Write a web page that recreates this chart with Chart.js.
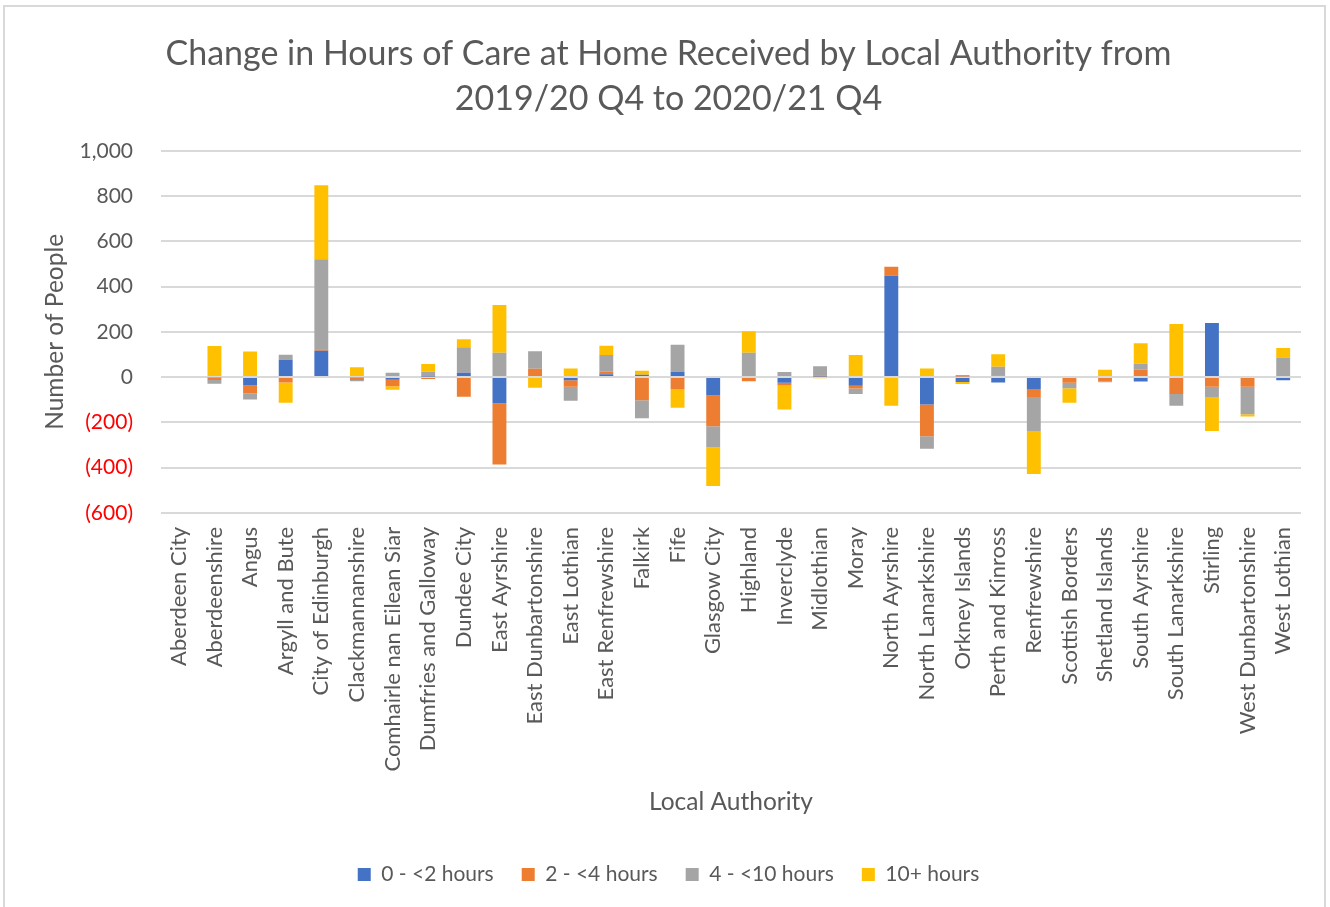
<!DOCTYPE html>
<html>
<head>
<meta charset="utf-8">
<script src="https://cdn.jsdelivr.net/npm/chart.js@4.4.1/dist/chart.umd.min.js"></script>
<style>
  html, body { margin: 0; padding: 0; background: #fff; }
  #frame {
    position: absolute; left: 3px; top: 5px; width: 1323px; height: 910px;
    border: 2px solid #d9d9d9; box-sizing: border-box;
  }
  #wrap { position: absolute; left: 0; top: 0; width: 1330px; height: 907px; }
</style>
</head>
<body>
<div id="frame"></div>
<div id="wrap"><canvas id="myChart" width="1330" height="907"></canvas></div>
<script>
const authorities = [
  "Aberdeen City", "Aberdeenshire", "Angus", "Argyll and Bute", "City of Edinburgh",
  "Clackmannanshire", "Comhairle nan Eilean Siar", "Dumfries and Galloway", "Dundee City",
  "East Ayrshire", "East Dunbartonshire", "East Lothian", "East Renfrewshire", "Falkirk",
  "Fife", "Glasgow City", "Highland", "Inverclyde", "Midlothian", "Moray", "North Ayrshire",
  "North Lanarkshire", "Orkney Islands", "Perth and Kinross", "Renfrewshire",
  "Scottish Borders", "Shetland Islands", "South Ayrshire", "South Lanarkshire", "Stirling",
  "West Dunbartonshire", "West Lothian"
];

const under2 = [0, -3, -37, 77, 116, -3, -12, 2, 19, -116, 0, -14, 12, 10, 24, -81, 0, -25, 2, -38, 448, -121, -22, -24, -53, 0, 0, -20, 0, 239, 0, -14];
const from2to4 = [0, -10, -35, -24, 7, -10, -28, -8, -87, -270, 37, -29, 12, -102, -55, -136, -18, -12, 6, -12, 40, -140, 3, 8, -35, -25, -18, 32, -75, -43, -43, 0];
const from4to10 = [0, -16, -27, 22, 398, -5, 19, 22, 113, 108, 77, -62, 74, -80, 119, -94, 108, 22, 40, -25, 0, -56, 6, 38, -150, -24, -5, 27, -52, -45, -121, 87];
const over10 = [0, 137, 113, -90, 327, 43, -16, 34, 35, 211, -47, 38, 40, 18, -81, -170, 94, -106, -5, 97, -127, 38, -9, 55, -190, -65, 32, 91, 234, -150, -10, 41];

const seriesNames = ["0 - <2 hours", "2 - <4 hours", "4 - <10 hours", "10+ hours"];
const seriesColors = ["#4472c4", "#ed7d31", "#a5a5a5", "#ffc000"];

const fontName = "Lato, 'Open Sans', sans-serif";
const txtColor = "#595959";

const ctx = document.getElementById("myChart");

const newChart = new Chart(ctx, {
  type: "bar",
  data: {
    labels: authorities,
    datasets: [under2, from2to4, from4to10, over10].map((vals, i) => ({
      label: seriesNames[i],
      data: vals,
      backgroundColor: seriesColors[i],
      borderWidth: 0,
      barPercentage: 0.39,
      categoryPercentage: 1,
    })),
  },
  options: {
    responsive: false,
    animation: false,
    layout: { padding: { left: 36, right: 29, top: 10, bottom: 12 } },
    plugins: {
      title: {
        display: true,
        text: ["Change in Hours of Care at Home Received by Local Authority from", "2019/20 Q4 to 2020/21 Q4"],
        color: txtColor,
        font: { family: fontName, size: 34, weight: "normal", lineHeight: 1.32 },
        padding: { top: 22, bottom: 29 },
      },
      legend: {
        position: "bottom",
        labels: {
          color: txtColor,
          font: { family: fontName, size: 21 },
          boxWidth: 13,
          boxHeight: 13,
          padding: 28,
        },
      },
      tooltip: { enabled: false },
    },
    scales: {
      x: {
        stacked: true,
        grid: { display: false },
        border: { display: false },
        ticks: {
          color: txtColor,
          font: { family: fontName, size: 22 },
          minRotation: 90,
          maxRotation: 90,
          autoSkip: false,
          padding: 6,
        },
        title: {
          display: true,
          text: "Local Authority",
          color: txtColor,
          font: { family: fontName, size: 24.5 },
          padding: { top: 10, bottom: 19 },
        },
      },
      y: {
        stacked: true,
        min: -600,
        max: 1000,
        afterFit: (scale) => {
          scale.width = 125;
        },
        grid: { color: "#d9d9d9", lineWidth: 2, drawTicks: false },
        border: { display: false },
        ticks: {
          stepSize: 200,
          padding: 28,
          font: { family: fontName, size: 21 },
          color: (c) => (c.tick && c.tick.value < 0 ? "#ff0000" : txtColor),
          callback: (v) => (v < 0 ? "(" + Math.abs(v).toLocaleString("en-US") + ")" : v.toLocaleString("en-US")),
        },
        title: {
          display: true,
          text: "Number of People",
          color: txtColor,
          font: { family: fontName, size: 24.5 },
          padding: { top: 4, bottom: 6 },
        },
      },
    },
  },
});
</script>
</body>
</html>
